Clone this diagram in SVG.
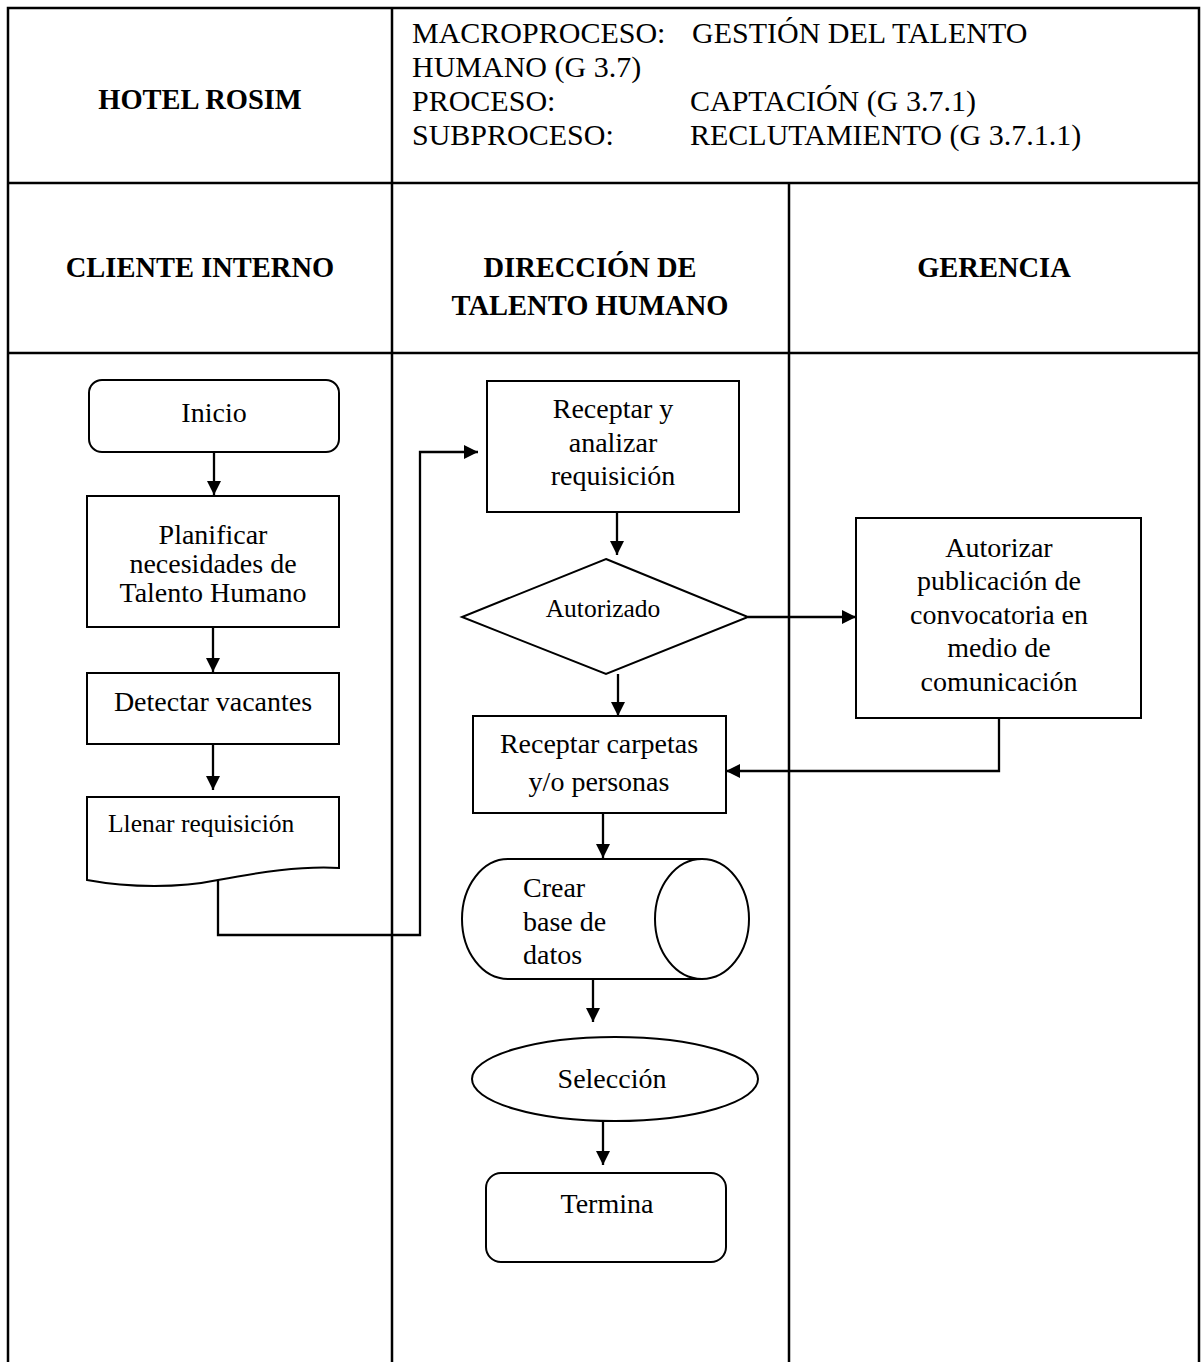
<svg xmlns="http://www.w3.org/2000/svg" width="1201" height="1362" viewBox="0 0 1201 1362">
  <defs>
    <marker id="arrow" markerUnits="userSpaceOnUse" markerWidth="14" markerHeight="14" refX="14" refY="7" orient="auto">
      <path d="M0,0 L14,7 L0,14 Z" fill="#000"/>
    </marker>
    <style>
      .grid { stroke: #000; stroke-width: 2.5; fill: none; }
      .shape { stroke: #000; stroke-width: 2; fill: #fff; }
      .conn { stroke: #000; stroke-width: 2.3; fill: none; }
      .arr { marker-end: url(#arrow); }
      text { font-family: "Liberation Serif", "Times New Roman", serif; fill: #000; }
      .hd { font-size: 28.5px; font-weight: bold; text-anchor: middle; }
      .meta { font-size: 30px; }
      .t { font-size: 28px; text-anchor: middle; }
      .tl { font-size: 28px; text-anchor: start; }
      .ts { font-size: 25.5px; }
      .tsc { font-size: 25.5px; text-anchor: middle; }
    </style>
  </defs>

  <rect width="1201" height="1362" fill="#fff"/>

  <!-- table frame and swimlane dividers -->
  <g id="table">
    <path class="grid" d="M8,1362 V8 H1199 V1362"/>
    <line class="grid" x1="8" y1="183" x2="1199" y2="183"/>
    <line class="grid" x1="8" y1="353" x2="1199" y2="353"/>
    <line class="grid" x1="392" y1="8" x2="392" y2="1362"/>
    <line class="grid" x1="789" y1="183" x2="789" y2="1362"/>
  </g>

  <!-- title block -->
  <g id="title">
    <text class="hd" x="200" y="109">HOTEL ROSIM</text>
    <text class="meta" x="412" y="43">MACROPROCESO:</text>
    <text class="meta" x="692" y="43">GESTIÓN DEL TALENTO</text>
    <text class="meta" x="412" y="77">HUMANO (G 3.7)</text>
    <text class="meta" x="412" y="111">PROCESO:</text>
    <text class="meta" x="690" y="111">CAPTACIÓN (G 3.7.1)</text>
    <text class="meta" x="412" y="145">SUBPROCESO:</text>
    <text class="meta" x="690" y="145">RECLUTAMIENTO (G 3.7.1.1)</text>
  </g>

  <!-- lane headers -->
  <g id="lanes">
    <text class="hd" x="200" y="277">CLIENTE INTERNO</text>
    <text class="hd" x="590" y="277">DIRECCIÓN DE</text>
    <text class="hd" x="590" y="315">TALENTO HUMANO</text>
    <text class="hd" x="994" y="277">GERENCIA</text>
  </g>

  <!-- connectors -->
  <g id="connectors">
    <line class="conn arr" x1="214" y1="452" x2="214" y2="495"/>
    <line class="conn arr" x1="213" y1="627" x2="213" y2="672"/>
    <line class="conn arr" x1="213" y1="744" x2="213" y2="790"/>
    <polyline class="conn arr" points="218,880 218,935 420,935 420,452 478,452"/>
    <line class="conn arr" x1="617" y1="512" x2="617" y2="555"/>
    <line class="conn arr" x1="748" y1="617" x2="856" y2="617"/>
    <line class="conn arr" x1="618" y1="674" x2="618" y2="716"/>
    <polyline class="conn arr" points="999,719 999,771 726,771"/>
    <line class="conn arr" x1="603" y1="813" x2="603" y2="858"/>
    <line class="conn arr" x1="593" y1="979" x2="593" y2="1022"/>
    <line class="conn arr" x1="603" y1="1122" x2="603" y2="1165"/>
  </g>

  <!-- cliente interno lane -->
  <g id="inicio">
    <rect class="shape" x="89" y="380" width="250" height="72" rx="13"/>
    <text class="t" x="214" y="422">Inicio</text>
  </g>
  <g id="planificar">
    <rect class="shape" x="87" y="496" width="252" height="131"/>
    <text class="t" x="213" y="544">Planificar</text>
    <text class="t" x="213" y="573">necesidades de</text>
    <text class="t" x="213" y="602">Talento Humano</text>
  </g>
  <g id="detectar">
    <rect class="shape" x="87" y="673" width="252" height="71"/>
    <text class="t" x="213" y="711">Detectar vacantes</text>
  </g>
  <g id="llenar">
    <path class="shape" d="M87,797 H339 V868 C300,866 260,872 218,880 C180,888 130,888 87,880 Z"/>
    <text class="ts" x="108" y="832">Llenar requisición</text>
  </g>

  <!-- direccion de talento humano lane -->
  <g id="receptar-analizar">
    <rect class="shape" x="487" y="381" width="252" height="131"/>
    <text class="t" x="613" y="418">Receptar y</text>
    <text class="t" x="613" y="452">analizar</text>
    <text class="t" x="613" y="485">requisición</text>
  </g>
  <g id="autorizado">
    <polygon class="shape" points="606,559 748,617 606,674 462,617"/>
    <text class="tsc" x="603" y="617">Autorizado</text>
  </g>
  <g id="receptar-carpetas">
    <rect class="shape" x="473" y="716" width="253" height="97"/>
    <text class="t" x="599" y="753">Receptar carpetas</text>
    <text class="t" x="599" y="791">y/o personas</text>
  </g>
  <g id="base-datos">
    <path class="shape" d="M702,859 H508 A46,60 0 0 0 508,979 H702"/>
    <ellipse class="shape" cx="702" cy="919" rx="47" ry="60"/>
    <text class="tl" x="523" y="897">Crear</text>
    <text class="tl" x="523" y="931">base de</text>
    <text class="tl" x="523" y="964">datos</text>
  </g>
  <g id="seleccion">
    <ellipse class="shape" cx="615" cy="1079" rx="143" ry="42"/>
    <text class="t" x="612" y="1088">Selección</text>
  </g>
  <g id="termina">
    <rect class="shape" x="486" y="1173" width="240" height="89" rx="15"/>
    <text class="t" x="607" y="1213">Termina</text>
  </g>

  <!-- gerencia lane -->
  <g id="autorizar">
    <rect class="shape" x="856" y="518" width="285" height="200"/>
    <text class="t" x="999" y="557">Autorizar</text>
    <text class="t" x="999" y="590">publicación de</text>
    <text class="t" x="999" y="624">convocatoria en</text>
    <text class="t" x="999" y="657">medio de</text>
    <text class="t" x="999" y="691">comunicación</text>
  </g>
</svg>
